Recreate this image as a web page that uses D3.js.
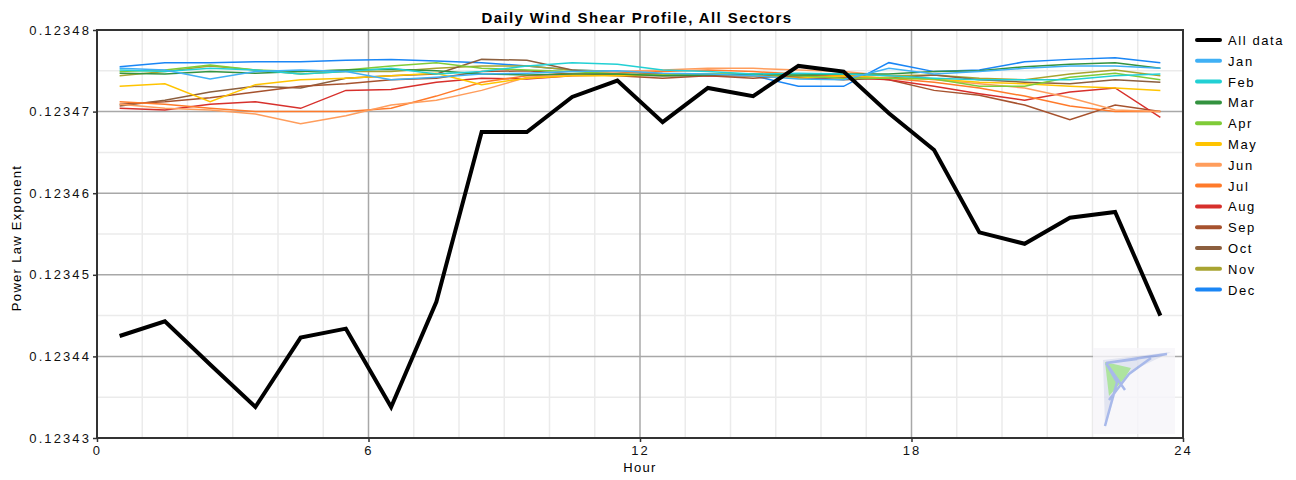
<!DOCTYPE html>
<html>
<head>
  <meta charset="utf-8">
  <title>Daily Wind Shear Profile</title>
  <style>
    body { margin: 0; padding: 0; background: #fff; font-family: "Liberation Sans", Arial, sans-serif; }
    .tick text { font-size: 13px; fill: #111; font-family: "Liberation Sans", Arial, sans-serif; letter-spacing: 2.1px; }
    .title { font-size: 15px; font-weight: bold; letter-spacing: 1.4px; }
    .label { font-size: 13px; letter-spacing: 1.3px; }
    .legend text { font-size: 13px; letter-spacing: 1.6px; }
  </style>
</head>
<body>
<div id="chart"></div>
<script src="https://cdnjs.cloudflare.com/ajax/libs/d3/7.8.5/d3.min.js"></script>
<script>
  // hours (bin centres)
  var hours = [0.5,1.5,2.5,3.5,4.5,5.5,6.5,7.5,8.5,9.5,10.5,11.5,12.5,13.5,14.5,15.5,16.5,17.5,18.5,19.5,20.5,21.5,22.5,23.5];

  var allData = [0.1234425,0.1234443,0.1234390,0.1234338,0.1234423,0.1234434,0.1234338,0.1234467,0.1234675,0.1234675,0.1234718,0.1234738,
                 0.1234687,0.1234729,0.1234719,0.1234756,0.1234749,0.1234698,0.1234653,0.1234552,0.1234538,0.1234570,0.1234577,0.1234450];

  var jan = [0.1234753,0.1234751,0.1234740,0.1234749,0.1234751,0.1234749,0.1234739,0.1234742,0.1234746,0.1234747,0.1234749,0.1234750,
             0.1234747,0.1234746,0.1234744,0.1234740,0.1234739,0.1234753,0.1234746,0.1234749,0.1234753,0.1234756,0.1234756,0.1234753];
  var feb = [0.1234751,0.1234749,0.1234753,0.1234751,0.1234746,0.1234749,0.1234753,0.1234746,0.1234749,0.1234756,0.1234760,0.1234758,
             0.1234751,0.1234749,0.1234746,0.1234747,0.1234746,0.1234744,0.1234741,0.1234739,0.1234739,0.1234739,0.1234744,0.1234746];
  var mar = [0.1234747,0.1234746,0.1234749,0.1234747,0.1234749,0.1234751,0.1234752,0.1234750,0.1234746,0.1234745,0.1234746,0.1234746,
             0.1234744,0.1234745,0.1234746,0.1234745,0.1234746,0.1234746,0.1234749,0.1234750,0.1234755,0.1234758,0.1234760,0.1234753];
  var apr = [0.1234749,0.1234751,0.1234757,0.1234751,0.1234749,0.1234751,0.1234756,0.1234760,0.1234753,0.1234751,0.1234749,0.1234746,
             0.1234745,0.1234746,0.1234746,0.1234744,0.1234741,0.1234741,0.1234740,0.1234731,0.1234731,0.1234742,0.1234747,0.1234739];
  var may = [0.1234731,0.1234734,0.1234712,0.1234733,0.1234739,0.1234741,0.1234744,0.1234747,0.1234733,0.1234741,0.1234744,0.1234744,
             0.1234745,0.1234746,0.1234744,0.1234741,0.1234744,0.1234741,0.1234740,0.1234736,0.1234734,0.1234731,0.1234729,0.1234726];
  var jun = [0.1234709,0.1234704,0.1234702,0.1234697,0.1234685,0.1234695,0.1234708,0.1234714,0.1234726,0.1234742,0.1234745,0.1234749,
             0.1234751,0.1234753,0.1234753,0.1234751,0.1234749,0.1234744,0.1234739,0.1234734,0.1234729,0.1234717,0.1234702,0.1234700];
  var jul = [0.1234712,0.1234709,0.1234704,0.1234700,0.1234700,0.1234700,0.1234704,0.1234719,0.1234736,0.1234744,0.1234746,0.1234747,
             0.1234749,0.1234751,0.1234749,0.1234746,0.1234744,0.1234741,0.1234736,0.1234729,0.1234719,0.1234707,0.1234700,0.1234700];
  var aug = [0.1234704,0.1234702,0.1234709,0.1234712,0.1234704,0.1234726,0.1234727,0.1234736,0.1234741,0.1234740,0.1234744,0.1234745,
             0.1234746,0.1234744,0.1234745,0.1234741,0.1234742,0.1234739,0.1234731,0.1234722,0.1234714,0.1234724,0.1234729,0.1234693];
  var sep = [0.1234709,0.1234712,0.1234717,0.1234724,0.1234731,0.1234734,0.1234739,0.1234741,0.1234749,0.1234750,0.1234746,0.1234744,
             0.1234741,0.1234744,0.1234741,0.1234744,0.1234745,0.1234739,0.1234726,0.1234720,0.1234708,0.1234690,0.1234708,0.1234700];
  var oct = [0.1234707,0.1234714,0.1234724,0.1234731,0.1234729,0.1234741,0.1234744,0.1234746,0.1234764,0.1234763,0.1234751,0.1234745,
             0.1234744,0.1234744,0.1234744,0.1234742,0.1234739,0.1234741,0.1234745,0.1234739,0.1234736,0.1234734,0.1234739,0.1234736];
  var nov = [0.1234744,0.1234749,0.1234756,0.1234751,0.1234746,0.1234749,0.1234749,0.1234753,0.1234756,0.1234756,0.1234751,0.1234749,
             0.1234746,0.1234746,0.1234744,0.1234744,0.1234746,0.1234744,0.1234745,0.1234741,0.1234739,0.1234746,0.1234751,0.1234744];
  var dec = [0.1234755,0.1234760,0.1234760,0.1234761,0.1234761,0.1234763,0.1234764,0.1234762,0.1234760,0.1234756,0.1234751,0.1234749,
             0.1234746,0.1234745,0.1234744,0.1234731,0.1234731,0.1234760,0.1234749,0.1234751,0.1234761,0.1234764,0.1234766,0.1234760];

  var seriesNames = ["All data","Jan","Feb","Mar","Apr","May","Jun","Jul","Aug","Sep","Oct","Nov","Dec"];
  var seriesColors = ["#000000","#3fb0f5","#22d0d4","#33923f","#7fcb38","#ffc400","#ff9d5c","#ff7a2a","#d7302c","#a6522e","#8c5f3e","#a8a431","#1a86f5"];
  var seriesValues = [allData, jan, feb, mar, apr, may, jun, jul, aug, sep, oct, nov, dec];

  var xTicks = [0, 6, 12, 18, 24];
  var yTicks = [0.12343, 0.12344, 0.12345, 0.12346, 0.12347, 0.12348];

  var width = 1296, height = 480;
  var margin = {top: 30, right: 113, bottom: 42, left: 97};
  var w = width - margin.left - margin.right,
      h = height - margin.top - margin.bottom;

  var svg = d3.select("#chart").append("svg")
    .attr("width", width)
    .attr("height", height);

  var g = svg.append("g").attr("transform", "translate(" + margin.left + "," + margin.top + ")");

  var x = d3.scaleLinear().domain([0, 24]).range([0, w]);
  var y = d3.scaleLinear().domain([0.12343, 0.12348]).range([h, 0]);

  // minor grid
  g.append("g").selectAll("line")
    .data(d3.range(1, 24).filter(function(d) { return d % 6 != 0; }))
    .enter().append("line")
    .attr("x1", x).attr("x2", x).attr("y1", 0).attr("y2", h)
    .attr("stroke", "#ebebeb").attr("stroke-width", 1.5);
  g.append("g").selectAll("line")
    .data([0.123435, 0.123445, 0.123455, 0.123465, 0.123475])
    .enter().append("line")
    .attr("x1", 0).attr("x2", w).attr("y1", y).attr("y2", y)
    .attr("stroke", "#ebebeb").attr("stroke-width", 1.5);

  // major grid
  g.append("g").selectAll("line")
    .data(xTicks.slice(1, 4))
    .enter().append("line")
    .attr("x1", x).attr("x2", x).attr("y1", 0).attr("y2", h)
    .attr("stroke", "#a8a8a8").attr("stroke-width", 1.5);
  g.append("g").selectAll("line")
    .data(yTicks.slice(1, 5))
    .enter().append("line")
    .attr("x1", 0).attr("x2", w).attr("y1", y).attr("y2", y)
    .attr("stroke", "#a8a8a8").attr("stroke-width", 1.5);

  // little logo in the corner
  var logo = g.append("g").attr("transform", "translate(" + (w - 86) + "," + (h - 84) + ")").attr("opacity", 0.8);
  logo.append("rect").attr("x", -4).attr("y", -6).attr("width", 82).attr("height", 86).attr("fill", "#f7f6fa");
  logo.append("path").attr("d", "M6,6 L74,-2 L62,4 L24,22 L16,48 L8,74 Z").attr("fill", "#dcdfee");
  logo.append("path").attr("d", "M8,8 L34,14 L28,24 L12,42 Z").attr("fill", "#9ade88");
  logo.append("path").attr("d", "M9,9 L70,0 M9,9 L28,36 M9,9 L20,28 L8,72 M9,9 L40,5 M12,46 L32,20 L54,4")
    .attr("stroke", "#93a8e6").attr("stroke-width", 2.5).attr("fill", "none");

  // lines
  var line = d3.line()
    .x(function(d, i) { return x(hours[i]); })
    .y(function(d) { return y(d); });

  for (var s = seriesValues.length - 1; s >= 1; s--) {
    g.append("path")
      .datum(seriesValues[s])
      .attr("d", line)
      .attr("fill", "none")
      .attr("stroke", seriesColors[s])
      .attr("stroke-width", 1.5);
  }
  g.append("path")
    .datum(allData)
    .attr("d", line)
    .attr("fill", "none")
    .attr("stroke", "#000")
    .attr("stroke-width", 4)
    .attr("stroke-linejoin", "miter");

  // frame
  g.append("rect").attr("width", w).attr("height", h)
    .attr("fill", "none").attr("stroke", "#333").attr("stroke-width", 2);

  // axes
  var xAxis = g.append("g").attr("transform", "translate(0," + h + ")")
    .call(d3.axisBottom(x).tickValues(xTicks).tickSize(4).tickPadding(4).tickFormat(d3.format("d")));
  var yAxis = g.append("g")
    .call(d3.axisLeft(y).tickValues(yTicks).tickSize(4).tickPadding(2).tickFormat(d3.format(".5f")));
  xAxis.select(".domain").remove();
  yAxis.select(".domain").remove();
  g.selectAll(".tick line").attr("stroke", "#333").attr("stroke-width", 1.5);

  // title and labels
  svg.append("text").attr("class", "title")
    .attr("x", 637).attr("y", 23)
    .attr("text-anchor", "middle")
    .text("Daily Wind Shear Profile, All Sectors");
  svg.append("text").attr("class", "label")
    .attr("x", margin.left + w / 2).attr("y", 472)
    .attr("text-anchor", "middle")
    .text("Hour");
  svg.append("text").attr("class", "label")
    .attr("transform", "translate(21," + (margin.top + h / 2 + 4) + ") rotate(-90)")
    .attr("text-anchor", "middle")
    .text("Power Law Exponent");

  // legend
  var legend = svg.append("g").attr("class", "legend")
    .attr("transform", "translate(1197,40)");
  var items = legend.selectAll("g").data(seriesNames).enter().append("g")
    .attr("transform", function(d, i) { return "translate(0," + (i * 20.8) + ")"; });
  items.append("line")
    .attr("x1", 0).attr("x2", 23).attr("y1", 0).attr("y2", 0)
    .attr("stroke", function(d, i) { return seriesColors[i]; })
    .attr("stroke-width", 4)
    .attr("stroke-linecap", "round");
  items.append("text")
    .attr("x", 31).attr("y", 5)
    .text(function(d) { return d; });
</script>
</body>
</html>
